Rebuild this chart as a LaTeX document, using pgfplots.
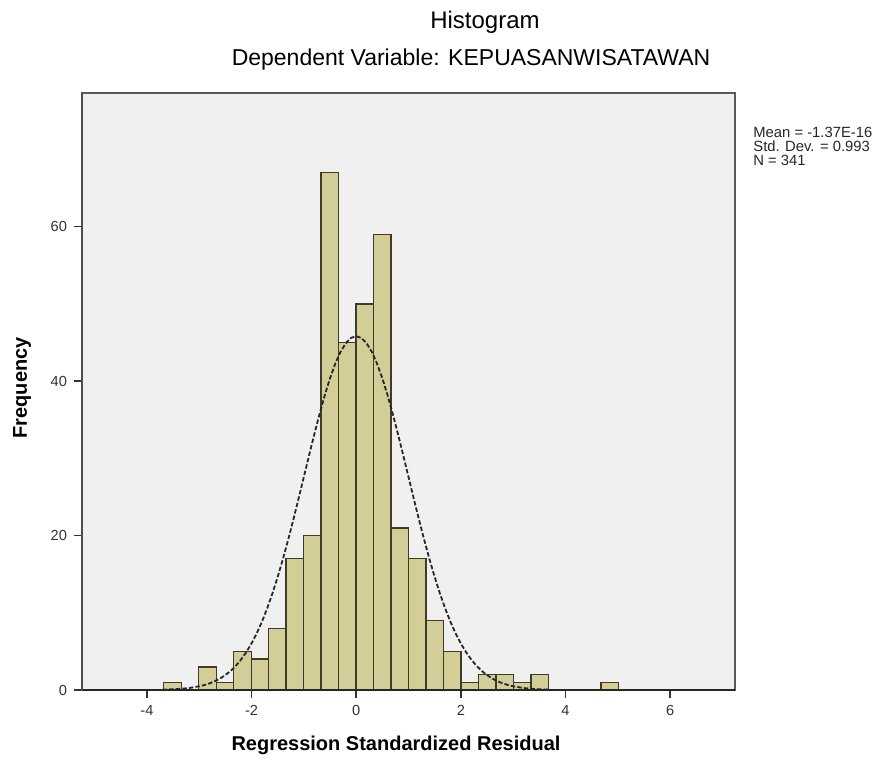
\documentclass[border=0pt]{standalone}
\usepackage{pgfplots}
\pgfplotsset{compat=1.18}
\usepackage{fontspec}
\setmainfont{Liberation Sans}
\definecolor{bgray}{RGB}{240,240,240}
\definecolor{barcol}{RGB}{211,206,152}
\definecolor{baredge}{RGB}{62,60,40}
\begin{document}
\begin{tikzpicture}
\useasboundingbox (-41pt,-37pt) rectangle (401.5pt,345pt);
\begin{axis}[
  at={(0pt,0pt)}, anchor=south west,
  scale only axis, width=326.5pt, height=298.5pt,
  xmin=-5.24, xmax=7.24, ymin=0, ymax=77.3,
  axis background/.style={fill=bgray},
  axis line style={draw=black!65, line width=0.7pt},
  xtick={-4,-2,0,2,4,6}, ytick={0,20,40,60},
  tick align=outside, major tick length=4pt,
  tick style={black!80, line width=0.7pt},
  xtick pos=bottom, ytick pos=left,
  /pgf/number format/assume math mode=true,
  ticklabel style={font=\fontsize{7.3}{8}\selectfont, text=black!80},
  clip=false,
]
\addplot[ybar interval, fill=barcol, draw=baredge, line width=0.7pt] table {
x y
-3.678 1
-3.344 0
-3.010 3
-2.675 1
-2.341 5
-2.006 4
-1.672 8
-1.338 17
-1.003 20
-0.669 67
-0.334 45
0.000 50
0.334 59
0.669 21
1.003 17
1.338 9
1.672 5
2.006 1
2.341 2
2.675 2
3.010 1
3.344 2
3.678 0
4.013 0
4.347 0
4.682 1
5.016 1
};
\addplot[black!85, line width=0.9pt, dash pattern=on 2.2pt off 1.1pt] coordinates {
(-3.7,0.044) (-3.6,0.064) (-3.4,0.13) (-3.2,0.25) (-3.0,0.48) (-2.9,0.64)
(-2.8,0.86) (-2.7,1.14) (-2.6,1.49) (-2.5,1.93) (-2.4,2.47) (-2.3,3.13)
(-2.2,3.94) (-2.1,4.90) (-2.0,6.03) (-1.9,7.34) (-1.8,8.86) (-1.7,10.58)
(-1.6,12.51) (-1.5,14.64) (-1.4,16.96) (-1.3,19.44) (-1.2,22.07) (-1.1,24.80)
(-1.0,27.59) (-0.9,30.38) (-0.8,33.11) (-0.7,35.73) (-0.6,38.17) (-0.5,40.36)
(-0.4,42.24) (-0.3,43.77) (-0.2,44.89) (-0.1,45.58) (0,45.81)
(0.1,45.58) (0.2,44.89) (0.3,43.77) (0.4,42.24) (0.5,40.36) (0.6,38.17)
(0.7,35.73) (0.8,33.11) (0.9,30.38) (1.0,27.59) (1.1,24.80) (1.2,22.07)
(1.3,19.44) (1.4,16.96) (1.5,14.64) (1.6,12.51) (1.7,10.58) (1.8,8.86)
(1.9,7.34) (2.0,6.03) (2.1,4.90) (2.2,3.94) (2.3,3.13) (2.4,2.47)
(2.5,1.93) (2.6,1.49) (2.7,1.14) (2.8,0.86) (2.9,0.64) (3.0,0.48)
(3.2,0.25) (3.4,0.13) (3.6,0.064) (3.7,0.044)
};
\draw[black!85, line width=1pt] (rel axis cs:0,0) -- (rel axis cs:1,0);
\draw[black!70, line width=0.9pt] (rel axis cs:0,0) -- (rel axis cs:0,1);
\end{axis}
\node[font=\fontsize{12}{14}\selectfont] at (201.5pt,334pt) {Histogram};
\node[font=\fontsize{11.5}{14}\selectfont] at (194.5pt,315pt) {Dependent Variable: KEPUASANWISATAWAN};
\node[font=\fontsize{7.4}{6.9}\selectfont, anchor=north west, align=left, inner sep=0pt, text=black!85] at (335.5pt,281.5pt) {Mean = -1.37E-16\\Std. Dev. = 0.993\\N = 341};
\node[font=\bfseries\fontsize{10}{12}\selectfont] at (157pt,-27.5pt) {Regression Standardized Residual};
\node[font=\bfseries\fontsize{10}{12}\selectfont, rotate=90] at (-30pt,151pt) {Frequency};
\end{tikzpicture}
\end{document}
